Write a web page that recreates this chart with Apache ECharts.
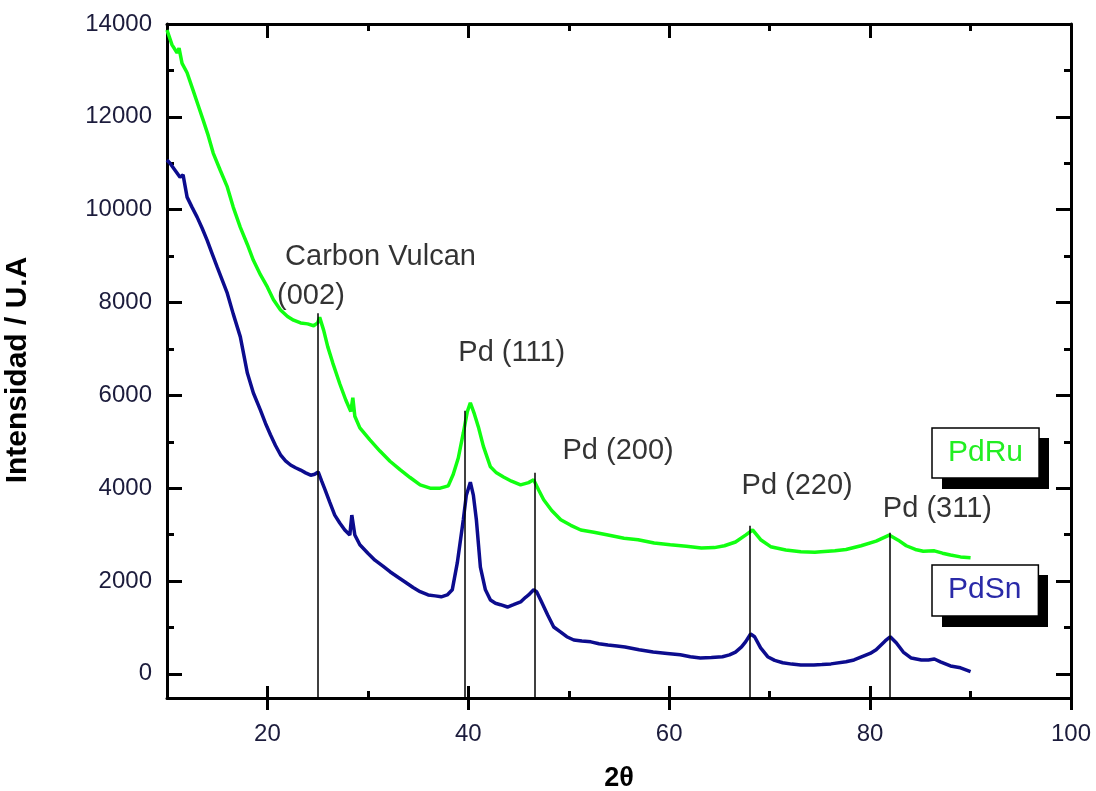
<!DOCTYPE html>
<html>
<head>
<meta charset="utf-8">
<script src="https://cdn.jsdelivr.net/npm/echarts@6/dist/echarts.min.js"></script>
<style>
html,body{margin:0;padding:0;background:#ffffff;}
#chart{width:1096px;height:791px;}
</style>
</head>
<body>
<div id="chart"></div>
<script>
// ---- data ----
const pdRu = [
  [10.0,13870],[10.5,13550],[11.0,13380],[11.2,13480],[11.5,13150],[12.0,12950],[12.6,12570],[13.1,12250],
  [13.6,11930],[14.1,11600],[14.6,11220],[15.3,10850],[16.0,10490],[16.6,10050],[17.3,9620],[18.0,9250],
  [18.6,8910],[19.3,8600],[20.0,8330],[20.6,8060],[21.3,7840],[22.0,7700],[22.6,7620],[23.3,7560],
  [24.0,7540],[24.6,7500],[25.0,7560],[25.2,7680],[25.6,7400],[26.0,7050],[26.5,6700],[27.2,6250],
  [27.8,5900],[28.3,5650],[28.5,5950],[28.7,5550],[29.2,5300],[30.2,5040],[31.2,4800],[32.2,4580],
  [33.2,4400],[34.2,4230],[35.2,4070],[36.2,4000],[37.2,4000],[38.0,4050],[38.5,4300],[39.0,4650],
  [39.5,5190],[39.9,5650],[40.2,5840],[40.6,5600],[41.0,5320],[41.5,4900],[42.2,4460],[42.8,4330],
  [43.5,4240],[44.3,4150],[45.2,4070],[46.0,4120],[46.5,4180],[47.0,3960],[47.5,3750],[48.3,3520],
  [49.2,3320],[50.2,3200],[51.2,3100],[52.5,3050],[53.9,2990],[55.5,2920],[56.9,2890],[58.5,2820],
  [60.1,2780],[61.7,2750],[63.2,2710],[64.5,2720],[65.5,2760],[66.6,2840],[67.6,2990],[68.3,3100],
  [69.1,2890],[70.1,2740],[71.6,2670],[73.1,2630],[74.5,2620],[75.1,2630],[76.5,2650],[77.6,2680],
  [79.1,2760],[80.6,2860],[81.9,2990],[82.8,2880],[83.6,2760],[84.5,2680],[85.3,2640],[86.4,2650],
  [87.2,2600],[88.0,2560],[89.0,2520],[90.0,2500]
];
const pdSn = [
  [10.0,11070],[10.3,11000],[10.8,10850],[11.3,10700],[11.6,10750],[12.0,10270],[12.5,10050],[13.0,9840],
  [13.5,9600],[14.0,9340],[14.5,9050],[15.0,8760],[15.5,8480],[16.0,8200],[16.6,7750],[17.3,7260],
  [18.0,6480],[18.6,6050],[19.3,5680],[19.8,5400],[20.3,5150],[20.8,4920],[21.3,4720],[21.8,4590],
  [22.3,4500],[22.8,4440],[23.3,4390],[23.8,4330],[24.3,4280],[24.7,4300],[25.05,4350],[25.4,4150],
  [25.75,3960],[26.2,3700],[26.7,3420],[27.2,3250],[27.7,3100],[28.2,2990],[28.4,3420],[28.7,2990],
  [29.2,2780],[30.0,2600],[30.7,2450],[31.5,2320],[32.2,2200],[33.0,2080],[33.7,1980],[34.5,1860],
  [35.2,1770],[36.0,1700],[36.7,1680],[37.3,1660],[37.9,1700],[38.4,1810],[38.9,2390],[39.5,3320],
  [39.8,3850],[40.2,4130],[40.5,3850],[40.8,3320],[41.2,2300],[41.7,1810],[42.2,1590],[42.7,1520],
  [43.2,1490],[43.9,1440],[44.5,1490],[45.2,1550],[45.7,1650],[46.0,1700],[46.5,1810],[46.8,1770],
  [47.2,1590],[47.9,1270],[48.5,1010],[49.2,900],[49.8,800],[50.5,730],[51.3,710],[52.2,690],
  [53.0,650],[53.9,620],[54.8,600],[55.6,580],[57.0,520],[58.4,470],[59.8,440],[61.1,410],
  [62.1,370],[63.1,340],[64.2,350],[65.3,370],[66.0,410],[66.6,470],[67.2,580],[67.6,690],
  [68.1,860],[68.5,800],[69.1,560],[69.8,370],[70.5,290],[71.3,240],[72.2,210],[73.1,190],
  [74.4,190],[75.2,200],[76.1,215],[77.6,260],[78.4,300],[79.2,370],[80.0,440],[80.6,520],
  [81.5,710],[82.0,800],[82.6,670],[83.3,470],[84.1,340],[85.1,300],[85.8,300],[86.4,320],
  [87.0,260],[88.0,170],[89.0,130],[90.0,50]
];
// vertical reference lines: [2θ position, top intensity]
const refPeaks = [[25.05,7770],[39.6,5670],[46.58,4330],[68.06,3190],[81.92,3040]];
// annotation texts: [left 2θ, middle intensity, text]
const annotations = [
  [21.76,8980,'Carbon Vulcan'],
  [20.96,8140,'(002)'],
  [39.0,6920,'Pd (111)'],
  [49.37,4800,'Pd (200)'],
  [67.2,4050,'Pd (220)'],
  [81.27,3560,'Pd (311)']
];
const xMajorTicks = [20,40,60,80,100];
const xMinorTicks = [30,50,70,90];
const yMajorTicks = [0,2000,4000,6000,8000,10000,12000,14000];
const yMinorTicks = [1000,3000,5000,7000,9000,11000,13000];
const xRange = [10,100];
const yRange = [-520,14000];

// ---- chart ----
const FONT = "'Liberation Sans', Arial, sans-serif";
const LABEL_COLOR = '#1c1c3c';
const chart = echarts.init(document.getElementById('chart'));

function xAx(pos, opts) {
  return Object.assign({
    type: 'value', position: pos, min: xRange[0], max: xRange[1],
    splitLine: {show: false},
    axisLine: {show: false, onZero: false},
    axisLabel: {show: false},
    axisTick: {show: false}
  }, opts);
}
function yAx(pos, opts) {
  return Object.assign({
    type: 'value', position: pos, min: yRange[0], max: yRange[1],
    splitLine: {show: false},
    axisLine: {show: false, onZero: false},
    axisLabel: {show: false},
    axisTick: {show: false}
  }, opts);
}
const axisLineStyle = {show: true, onZero: false, lineStyle: {color: '#000', width: 3}};
const tick = (vals, inside, len) => ({show: true, customValues: vals, inside: inside, length: len, lineStyle: {color: '#000', width: 3}});

const legendBase = {
  orient: 'horizontal', itemWidth: 0, itemHeight: 0, icon: 'rect',
  backgroundColor: '#fff', borderColor: '#000', borderWidth: 1.5,
  selectedMode: false, z: 6
};

const option = {
  animation: false,
  backgroundColor: '#ffffff',
  grid: {left: 167, right: 25, top: 24, bottom: 93, containLabel: false, outerBoundsMode: 'none'},
  xAxis: [
    xAx('bottom', {
      axisLine: axisLineStyle,
      axisTick: tick(xMajorTicks, true, 12),
      axisLabel: {show: true, customValues: xMajorTicks, margin: 24, fontSize: 24, color: LABEL_COLOR, fontFamily: FONT},
      name: '2θ', nameLocation: 'middle', nameGap: 67,
      nameTextStyle: {fontSize: 27, fontWeight: 'bold', color: '#000', fontFamily: FONT}
    }),
    xAx('bottom', {axisTick: tick(xMajorTicks, false, 12)}),
    xAx('bottom', {axisTick: tick(xMinorTicks, true, 7)}),
    xAx('top', {axisLine: axisLineStyle, axisTick: tick(xMajorTicks, true, 14)}),
    xAx('top', {axisTick: tick(xMinorTicks, true, 7)})
  ],
  yAxis: [
    yAx('left', {
      axisLine: axisLineStyle,
      axisTick: tick(yMajorTicks, true, 15),
      axisLabel: {show: true, customValues: yMajorTicks, margin: 15, fontSize: 24, color: LABEL_COLOR, fontFamily: FONT,
                  formatter: v => String(v)},
      name: 'Intensidad / U.A', nameLocation: 'middle', nameRotate: 90, nameGap: 134,
      nameTextStyle: {fontSize: 30, fontWeight: 'bold', color: '#000', fontFamily: FONT, padding: [0, 18, 0, 0]}
    }),
    yAx('left', {axisTick: tick(yMinorTicks, true, 7)}),
    yAx('right', {axisLine: axisLineStyle, axisTick: tick(yMajorTicks, true, 15)}),
    yAx('right', {axisTick: tick(yMinorTicks, true, 7)})
  ],
  legend: [
    Object.assign({}, legendBase, {
      data: ['PdRu'], left: 932, top: 428, padding: [10, 16, 10, 11],
      textStyle: {fontSize: 30, color: '#22ee22', fontFamily: FONT}
    }),
    Object.assign({}, legendBase, {
      data: ['PdSn'], left: 932, top: 565, padding: [10, 17, 11, 11],
      textStyle: {fontSize: 30, color: '#2a2aa8', fontFamily: FONT}
    })
  ],
  // drop shadows behind the two legend boxes
  graphic: [
    {type: 'rect', z: 1, left: 942, top: 438, shape: {width: 107, height: 51}, style: {fill: '#000'}, silent: true},
    {type: 'rect', z: 1, left: 942, top: 575, shape: {width: 106, height: 52}, style: {fill: '#000'}, silent: true}
  ],
  series: [
    {
      name: 'PdRu', type: 'line', data: pdRu, showSymbol: false, symbol: 'none',
      lineStyle: {color: '#11ff11', width: 3.5}, itemStyle: {color: '#11ff11'}, z: 2
    },
    {
      name: 'PdSn', type: 'line', data: pdSn, showSymbol: false, symbol: 'none',
      lineStyle: {color: '#0c0c8e', width: 3.5}, itemStyle: {color: '#0c0c8e'}, z: 2
    },
    {
      name: 'annotations', type: 'scatter', silent: true, z: 5,
      symbolSize: 0,
      data: annotations.map(a => ({value: [a[0], a[1]], name: a[2]})),
      label: {
        show: true, position: 'right', distance: 0,
        formatter: p => p.name,
        fontSize: 29, color: '#000', fontFamily: FONT
      },
      markLine: {
        silent: true, symbol: ['none', 'none'], animation: false,
        label: {show: false},
        lineStyle: {color: '#000', width: 1.5, type: 'solid'},
        data: refPeaks.map(p => [{coord: [p[0], yRange[0]]}, {coord: [p[0], p[1]]}])
      }
    }
  ]
};
chart.setOption(option);
</script>
</body>
</html>
